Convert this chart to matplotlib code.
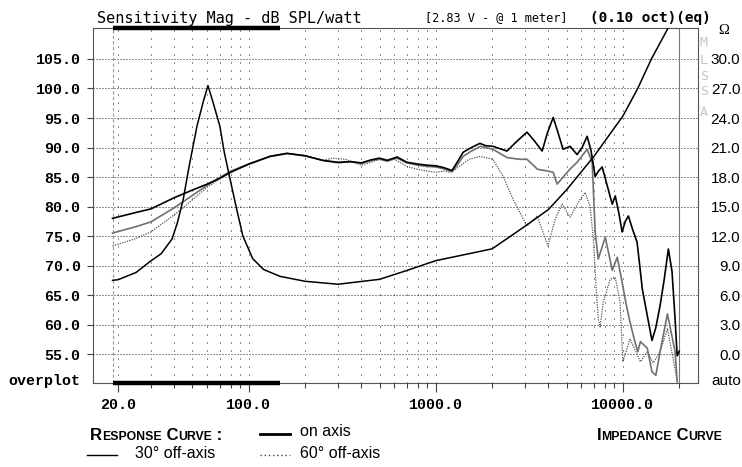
import matplotlib
matplotlib.use("Agg")
import matplotlib.pyplot as plt
from matplotlib.lines import Line2D

# --- data ------------------------------------------------------------------
f_on = [18.7, 25, 30, 40, 50, 60, 70, 80, 100, 130, 160, 200, 250, 300, 350, 400,
        450, 500, 550, 620, 700, 800, 900, 1000, 1100, 1220, 1300, 1400, 1550, 1720,
        1850, 2020, 2200, 2400, 2700, 3070, 3350, 3700, 3950, 4240, 4500, 4790, 5220,
        5690, 6050, 6440, 6750, 7110, 7400, 7750, 8250, 8770, 9100, 9500, 9900, 10300,
        10700, 11300, 11900, 12300, 12700, 13500, 14300, 15000, 15800, 16600, 17500,
        18300, 19000, 19500, 20000]
db_on = [78.0, 79.0, 79.6, 81.5, 82.8, 83.8, 84.8, 85.8, 87.2, 88.5, 89.0, 88.6, 87.8,
         87.5, 87.6, 87.4, 87.9, 88.2, 87.8, 88.4, 87.5, 87.2, 87.0, 86.9, 86.6, 86.1,
         87.5, 89.2, 90.0, 90.7, 90.3, 90.2, 89.8, 89.4, 91.0, 92.6, 91.2, 89.4, 92.5,
         95.1, 92.5, 89.7, 90.2, 88.8, 90.0, 91.9, 89.5, 85.1, 86.0, 86.7, 83.5, 80.4,
         81.8, 79.0, 75.7, 77.5, 78.4, 76.0, 74.0, 70.0, 66.0, 61.5, 57.3, 59.5, 63.2,
         67.5, 72.8, 69.0, 61.0, 54.7, 55.5]

f_30 = [18.7, 25, 30, 40, 45, 60, 80, 100, 130, 160, 200, 250, 300, 350, 400, 450, 500,
        550, 620, 700, 800, 900, 1000, 1100, 1220, 1300, 1400, 1550, 1730, 2020, 2400,
        2800, 3070, 3500, 4000, 4240, 4450, 4790, 5200, 5690, 6440, 6850, 7110, 7380,
        8050, 8770, 9330, 9900, 10400, 10900, 11500, 12000, 12400, 13500, 14300, 15000,
        15800, 17300, 18300, 19000, 19500]
db_30 = [75.5, 76.6, 77.4, 79.8, 80.9, 83.6, 86.0, 87.2, 88.5, 89.0, 88.6, 87.8, 87.4,
         87.6, 87.3, 87.8, 88.0, 87.7, 88.2, 87.4, 87.0, 86.8, 86.7, 86.4, 85.9, 87.0,
         88.5, 89.4, 90.2, 89.7, 88.3, 88.0, 88.0, 86.3, 86.0, 85.8, 83.8, 85.0, 86.3,
         87.5, 89.7, 87.5, 75.7, 71.1, 74.8, 69.2, 71.4, 67.2, 63.5, 60.5, 57.5, 55.4,
         57.1, 56.0, 52.0, 51.4, 55.4, 61.8, 58.0, 55.4, 50.3]

f_60 = [18.7, 25, 30, 40, 45, 60, 80, 100, 130, 160, 200, 250, 280, 330, 400, 450, 500,
        600, 700, 800, 900, 1000, 1100, 1200, 1300, 1500, 1730, 2020, 2290, 2590, 3070,
        3480, 3980, 4350, 4730, 5220, 5770, 6280, 6680, 6950, 7200, 7380, 7550, 7850,
        8550, 9100, 9660, 10000, 10900, 12400, 13500, 14500, 15800, 17300, 18600, 19500]
db_60 = [73.3, 74.6, 75.7, 78.6, 79.9, 83.3, 85.8, 87.1, 88.5, 89.0, 88.6, 87.8, 88.2,
         88.0, 87.0, 87.5, 88.0, 88.0, 86.8, 86.3, 86.0, 85.8, 86.0, 85.8, 86.5, 88.0,
         88.5, 88.0, 85.1, 81.2, 76.7, 78.4, 73.3, 77.9, 80.4, 78.2, 80.7, 82.4, 80.0,
         74.5, 66.0, 61.0, 59.6, 63.8, 67.7, 68.0, 63.8, 53.7, 57.6, 53.7, 55.4, 53.5,
         55.4, 59.3, 54.0, 50.5]

f_imp = [18.7, 20, 25, 29.6, 34, 38.9, 41.6, 44.6, 48, 52.9, 57, 60.5, 64.4, 70, 74,
         79.4, 86, 93, 105, 120, 147, 200, 300, 500, 700, 1000, 1500, 2000, 3000, 4000,
         5000, 7000, 10000, 12000, 14200, 17500, 20000]
ohm_imp = [7.5, 7.56, 8.3, 9.4, 10.2, 11.7, 13.4, 15.7, 19.1, 23.2, 25.6, 27.3, 25.6,
           23.2, 20.5, 17.8, 14.8, 12.0, 9.7, 8.6, 7.9, 7.4, 7.1, 7.6, 8.5, 9.5, 10.2,
           10.7, 13.0, 14.7, 16.7, 20.1, 24.2, 27.0, 30.0, 33.2, 35.0]

bar_range = [18.7, 147]
x_ticks = [20, 100, 1000, 10000]
x_tick_labels = ["20.0", "100.0", "1000.0", "10000.0"]
x_minor = [m * d for d in (10, 100, 1000) for m in range(2, 10)] + [20000]
y_ticks = [55, 60, 65, 70, 75, 80, 85, 90, 95, 100, 105]
y_tick_labels = ["%.1f" % v for v in y_ticks]
ohm_ticks = [0, 3, 6, 9, 12, 15, 18, 21, 24, 27, 30]
ohm_tick_labels = ["%.1f" % v for v in ohm_ticks]

DB_LIM = (50.1, 110.25)
OHM_PER_DB = 0.6   # 0 ohm sits on 55 dB, 30 ohm on 105 dB
W, H = 742, 467

def fx(x): return x / W
def fy(y): return 1 - y / H

fig = plt.figure(figsize=(W / 100, H / 100), dpi=100)
ax = fig.add_axes([fx(93), fy(383), fx(698 - 93), (383 - 28) / H])
ax.set_xscale('log')
ax.set_xlim(14.7, 25200)
ax.set_ylim(*DB_LIM)

mono = dict(fontfamily='Liberation Mono', fontweight='bold', fontsize=10.8)
ax.set_xticks(x_ticks, labels=x_tick_labels, **mono)
ax.set_xticks(x_minor, minor=True)
ax.set_yticks(y_ticks, labels=y_tick_labels, **mono)
ax.tick_params(axis='x', which='major', length=6.5, width=0.8, color='#444', pad=4)
ax.tick_params(axis='x', which='minor', length=3.6, width=0.8, color='#444')
ax.tick_params(axis='y', length=4, width=0.8, color='#444', pad=5)
for s in ax.spines.values():
    s.set_color('#555')
    s.set_linewidth(0.8)

ax.grid(axis='y', color='#222', lw=0.72, ls=(0, (1, 2)))
ax.grid(axis='x', which='both', color='#222', lw=0.72, ls=(0, (1, 7)))
ax.axvline(20000, color='#777', lw=0.8)
ax.axvline(bar_range[0], color='#999', lw=0.8, ls=(0, (3, 2)))

ax.plot(f_60, db_60, color='#555', lw=0.9, ls=(0, (1, 1)))
ax.plot(f_30, db_30, color='#707070', lw=1.2)
ax.plot(f_on, db_on, color='black', lw=1.2)

for yy in (0, 1):
    ax.plot(bar_range, [yy, yy], transform=ax.get_xaxis_transform(), color='black',
            lw=3.2, solid_capstyle='butt', clip_on=False, zorder=5)

ax2 = ax.twinx()
ax2.set_ylim((DB_LIM[0] - 55) * OHM_PER_DB, (DB_LIM[1] - 55) * OHM_PER_DB)
ax2.plot(f_imp, ohm_imp, color='black', lw=1.1)
ax2.set_yticks(ohm_ticks, labels=ohm_tick_labels, fontfamily='Liberation Sans', fontsize=11)
for lbl in ax2.get_yticklabels():
    lbl.set_ha('right')
ax2.tick_params(axis='y', length=0, pad=30.5)
for s in ax2.spines.values():
    s.set_visible(False)

# --- header / side texts ----------------------------------------------------
fig.text(fx(97), fy(18), "Sensitivity Mag - dB SPL/watt", fontfamily='DejaVu Sans Mono',
         fontsize=11, va='center')
fig.text(fx(425), fy(18), "[2.83 V - @ 1 meter]", fontfamily='DejaVu Sans Mono',
         fontsize=8.6, va='center')
fig.text(fx(590), fy(18), "(0.10 oct)(eq)", fontfamily='DejaVu Sans Mono',
         fontweight='bold', fontsize=10.4, va='center')
fig.text(fx(8), fy(381), "overplot", va='center', **mono)
fig.text(fx(724), fy(31), "\u03a9", fontfamily='Liberation Serif', fontsize=10.5,
         ha='center', va='center')
fig.text(fx(741), fy(381), "auto", fontfamily='Liberation Sans', fontsize=11,
         ha='right', va='center')
for ch, yy in zip("MLSSA", [43, 61, 77, 92, 113]):
    fig.text(fx(704), fy(yy), ch, fontfamily='DejaVu Sans Mono', fontsize=9.5,
             color='#c4c4c4', ha='center', va='center')

# --- legend at the bottom ---------------------------------------------------
def small_caps(x, y, text, big=12, small=8.8):
    pieces = []
    for i, w in enumerate(text.split(' ')):
        pieces.append(((' ' if i else '') + w[0], big))
        if len(w) > 1:
            pieces.append((w[1:], small))
    prev = fig.text(x, y, pieces[0][0], fontsize=pieces[0][1], fontweight='bold',
                    fontfamily='Liberation Sans', va='bottom')
    for s, size in pieces[1:]:
        prev = ax.annotate(s, xy=(1, 0), xycoords=prev, va='bottom', ha='left',
                           fontsize=size, fontweight='bold', fontfamily='Liberation Sans',
                           annotation_clip=False)

small_caps(fx(90), fy(443), "RESPONSE CURVE :")
small_caps(fx(597), fy(443), "IMPEDANCE CURVE")

legend_rows = [("on axis", 260, 434, dict(color='black', lw=2.0)),
               ("30\u00b0 off-axis", 87, 455, dict(color='black', lw=1.0)),
               ("60\u00b0 off-axis", 260, 455, dict(color='#444', lw=1.0, ls=(0, (1, 2))))]
for label, x0, yy, style in legend_rows:
    fig.add_artist(Line2D([fx(x0), fx(x0 + 30)], [fy(yy), fy(yy)], **style))
    fig.text(fx(x0 + 48 if x0 < 200 else x0 + 40), fy(yy - 2), label,
             fontfamily='Liberation Sans', fontsize=11.5, va='center')

fig.savefig("out.png", dpi=100)
